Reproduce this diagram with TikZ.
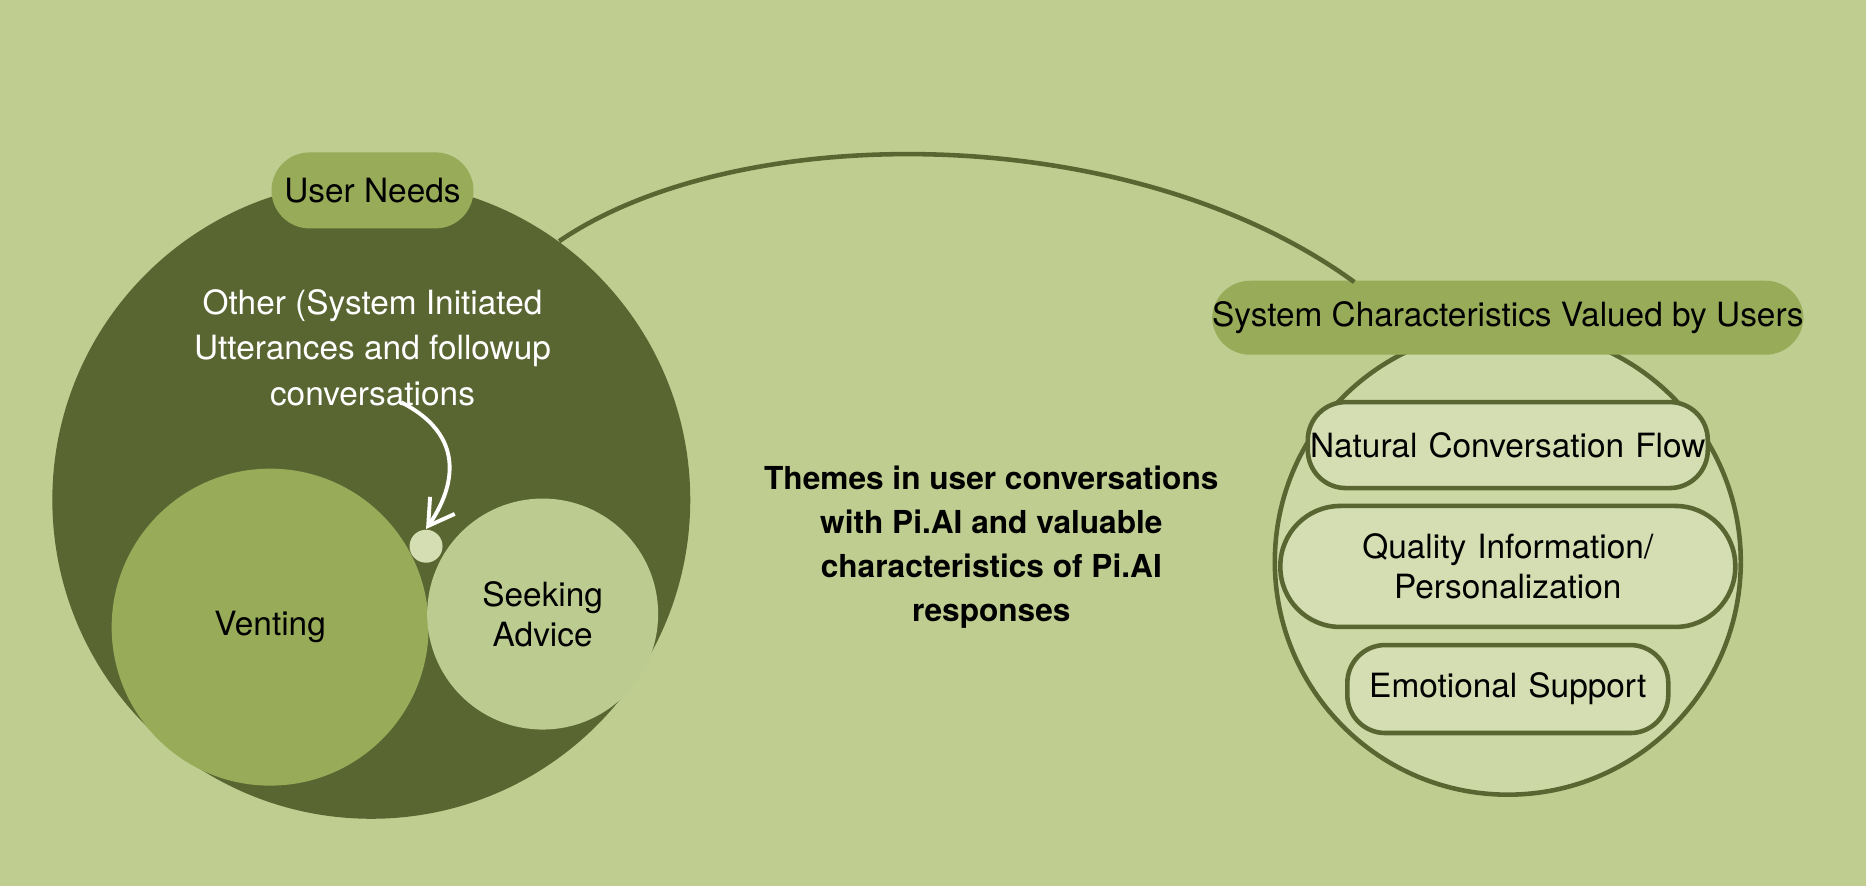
\documentclass[tikz,border=0pt]{standalone}
\usepackage{fontspec}
\setmainfont{TeX Gyre Heros}
\usetikzlibrary{arrows.meta, positioning}
\definecolor{bgc}{HTML}{BFCD90}
\definecolor{darkolive}{HTML}{5A6632}
\definecolor{midolive}{HTML}{97AB58}
\definecolor{lightolive}{HTML}{BCCB8F}
\definecolor{paleolive}{HTML}{D4DEB2}
\tikzstyle{blob} = [circle, inner sep=0pt, font=\fontsize{9.5}{11.5}\selectfont]
\tikzstyle{pill} = [rectangle, rounded corners=0.38cm, inner sep=0pt, text centered, font=\fontsize{9.5}{11.5}\selectfont]
\tikzstyle{trait} = [pill, draw=darkolive, line width=1.3pt, fill=paleolive, text width=4cm]
\tikzstyle{arrow} = [line width=1.1pt, -{Straight Barb[length=2.5mm,width=3mm]}]

\begin{document}
\begin{tikzpicture}[x=0.0119cm, y=-0.0119cm]
  \useasboundingbox[fill=bgc] (0,0) rectangle (1568,744.5);

  % user needs side
  \node (needs) [blob, fill=darkolive, minimum size=6.38cm] at (312,420) {};
  \node (venting) [blob, fill=midolive, minimum size=3.17cm] at (227,527) {Venting};
  \node (advice) [blob, fill=lightolive, minimum size=2.31cm, align=center] at (456,516) {Seeking\\Advice};
  \node (other) [blob, fill=paleolive, minimum size=0.33cm] at (358,459) {};
  \node (needslabel) [pill, fill=midolive, minimum width=2.02cm, minimum height=0.76cm] at (313,160) {User Needs};
  \node (othertext) [text=white, align=center, font=\fontsize{9.5}{13}\selectfont] at (313,292)
    {Other (System Initiated\\Utterances and followup\\conversations};
  \coordinate (otherstart) at (337,338);
  \draw[arrow, white] (otherstart) .. controls (400,370) and (375,420) .. (other.north);

  % system side
  \node (system) [blob, draw=darkolive, line width=1.3pt, fill=paleolive!70!lightolive, minimum size=4.66cm] at (1267,472) {};
  \node (syslabel) [pill, fill=midolive, minimum width=5.88cm, minimum height=0.74cm] at (1267,267) {System Characteristics Valued by Users};
  \node (flow) [trait, text width=4cm, minimum height=0.86cm] at (1267,374) {Natural Conversation Flow};
  \node (quality) [trait, rounded corners=0.6cm, text width=4.55cm, minimum height=1.21cm, align=center] at (1267,476) {Quality Information/\\Personalization};
  \node (emotion) [trait, text width=3.21cm, minimum height=0.88cm] at (1267,579) {Emotional Support};

  \coordinate (arcend) at (1138,237);
  \draw[darkolive, line width=1.3pt] (needs.54) .. controls (620,100) and (950,100) .. (arcend);

  \node (themes) [align=center, font=\bfseries\fontsize{9}{12.5}\selectfont] at (833,460)
    {Themes in user conversations\\with Pi.AI and valuable\\characteristics of Pi.AI\\responses};
\end{tikzpicture}
\end{document}
